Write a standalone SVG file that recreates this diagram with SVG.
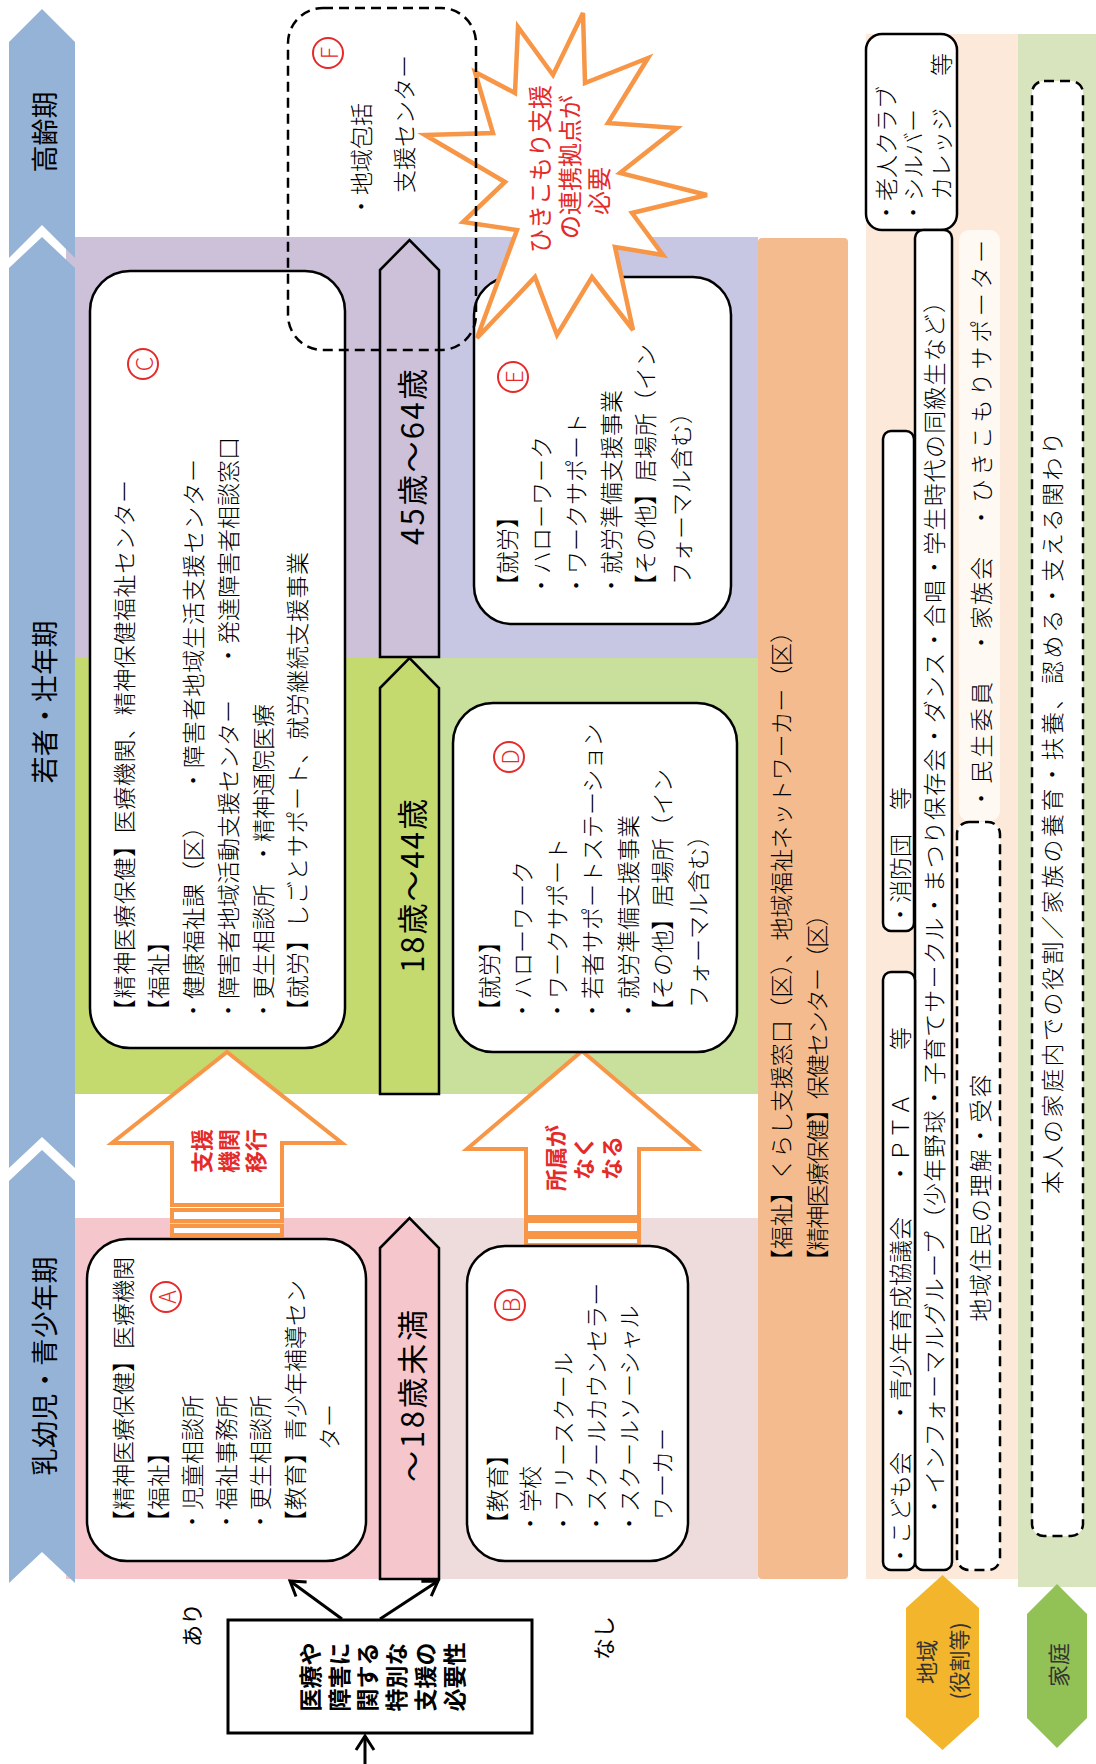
<svg xmlns="http://www.w3.org/2000/svg" width="1096" height="1764" viewBox="0 0 1096 1764">
<defs>
<style>
text{font-family:'Noto Sans CJK JP','Noto Sans CJK SC',sans-serif;dominant-baseline:central}
.bt{font-size:23px;fill:#000;font-weight:300}
.st{font-size:27px;fill:#000}
.ag{font-size:31px;fill:#000}
.rd{fill:#E52A2A}
.box{fill:#fff;stroke:#000;stroke-width:2.5}
.dash{stroke:#000;stroke-width:2.5;stroke-dasharray:10 6}
.stage{fill:#95B3D7}
.oa{fill:#fff;stroke:#F79646;stroke-width:4}
.cl{fill:none;stroke:#E52A2A;stroke-width:2}
.con{fill:none;stroke:#000;stroke-width:3}
.lt{font-size:23px;fill:#E52A2A;font-weight:300}
</style>
<marker id="ah" markerUnits="userSpaceOnUse" markerWidth="24" markerHeight="24" viewBox="0 0 24 24" refX="20" refY="12" orient="auto"><path d="M6,3 L20,12 L6,21" fill="none" stroke="#000" stroke-width="3"/></marker>
</defs>
<rect width="1096" height="1764" fill="#fff"/>
<g id="bands">
<rect x="66" y="237" width="343" height="421" fill="#CDC1DA"/>
<rect x="409" y="237" width="349" height="421" fill="#C7C7E3"/>
<rect x="66" y="658" width="343" height="436" fill="#C4D96E"/>
<rect x="409" y="658" width="349" height="436" fill="#C9E09D"/>
<rect x="66" y="1218" width="343" height="361" fill="#F5C6CB"/>
<rect x="409" y="1218" width="349" height="361" fill="#EEDCDC"/>
<rect x="758" y="238" width="90" height="1341" rx="4" fill="#F4BB8F"/>
<rect x="866" y="34" width="152" height="1545" fill="#FCE9DA"/>
<rect x="1018" y="34" width="78" height="1553" fill="#D7E4BD"/>
</g>
<g id="stage-elderly">
<polygon class="stage" points="9,42 42,9 75,42 75,258 42,225 9,258"/>
<text class="st" x="43" y="132" text-anchor="middle" transform="rotate(-90 43 132)">高齢期</text>
</g>
<g id="stage-adult">
<polygon class="stage" points="9,268 42,237 75,268 75,1168 42,1137 9,1168"/>
<text class="st" x="43" y="702" text-anchor="middle" textLength="163" transform="rotate(-90 43 702)">若者・壮年期</text>
</g>
<g id="stage-child">
<polygon class="stage" points="9,1181 42,1150 75,1181 75,1583 42,1552 9,1583"/>
<text class="st" x="43" y="1366" text-anchor="middle" textLength="219" transform="rotate(-90 43 1366)">乳幼児・青少年期</text>
</g>
<g id="age-45-64">
<polygon points="380,270 409.5,240 439,270 439,657 380,657" fill="#CDC1DA" stroke="#000" stroke-width="2.5"/>
<text class="ag" x="410" y="457" text-anchor="middle" textLength="176" transform="rotate(-90 410 457)">45歳〜64歳</text>
</g>
<g id="age-18-44">
<polygon points="380,688 409.5,658 439,688 439,1094 380,1094" fill="#C4D96E" stroke="#000" stroke-width="2.5"/>
<text class="ag" x="410" y="886" text-anchor="middle" textLength="174" transform="rotate(-90 410 886)">18歳〜44歳</text>
</g>
<g id="age-under18">
<polygon points="380,1248 409.5,1218 439,1248 439,1579 380,1579" fill="#F5C6CB" stroke="#000" stroke-width="2.5"/>
<text class="ag" x="410" y="1396" text-anchor="middle" textLength="172" transform="rotate(-90 410 1396)">〜18歳未満</text>
</g>
<g id="arrow-shien">
<polygon class="oa" points="227,1052 342,1143 282,1143 282,1205 172,1205 172,1143 112,1143"/>
<rect class="oa" x="172" y="1210" width="110" height="11"/>
<rect class="oa" x="172" y="1226" width="110" height="9"/>
<text class="rd" font-size="22" font-weight="700" x="200" y="1151" text-anchor="middle" transform="rotate(-90 200 1151)">支援</text>
<text class="rd" font-size="22" font-weight="700" x="227" y="1151" text-anchor="middle" transform="rotate(-90 227 1151)">機関</text>
<text class="rd" font-size="22" font-weight="700" x="254" y="1151" text-anchor="middle" transform="rotate(-90 254 1151)">移行</text>
</g>
<g id="arrow-shozoku">
<polygon class="oa" points="582,1051 697,1149 639,1149 639,1217 526,1217 526,1149 467,1149"/>
<rect class="oa" x="526" y="1221" width="113" height="12"/>
<rect class="oa" x="526" y="1237" width="113" height="8"/>
<text class="rd" font-size="22" font-weight="700" x="554" y="1158" text-anchor="middle" transform="rotate(-90 554 1158)">所属が</text>
<text class="rd" font-size="22" font-weight="700" x="582" y="1158" text-anchor="middle" transform="rotate(-90 582 1158)">なく</text>
<text class="rd" font-size="22" font-weight="700" x="610" y="1158" text-anchor="middle" transform="rotate(-90 610 1158)">なる</text>
</g>
<g id="node-C">
<rect class="box" x="90" y="271" width="255" height="777" rx="40"/>
<circle class="cl" cx="143" cy="364" r="15"/>
<text class="lt" x="143" y="364" text-anchor="middle" transform="rotate(-90 143 364)">C</text>
<text class="bt" x="123" y="1022" textLength="542" transform="rotate(-90 123 1022)">【精神医療保健】医療機関、精神保健福祉センター</text>
<text class="bt" x="157" y="1022" transform="rotate(-90 157 1022)">【福祉】</text>
<text class="bt" x="192" y="1022" transform="rotate(-90 192 1022)">・健康福祉課（区）</text>
<text class="bt" x="192" y="792" textLength="333" transform="rotate(-90 192 792)">・障害者地域生活支援センター</text>
<text class="bt" x="227" y="1022" transform="rotate(-90 227 1022)">・障害者地域活動支援センター</text>
<text class="bt" x="227" y="667" transform="rotate(-90 227 667)">・発達障害者相談窓口</text>
<text class="bt" x="262" y="1022" transform="rotate(-90 262 1022)">・更生相談所</text>
<text class="bt" x="262" y="865" transform="rotate(-90 262 865)">・精神通院医療</text>
<text class="bt" x="296" y="1022" textLength="470" transform="rotate(-90 296 1022)">【就労】しごとサポート、就労継続支援事業</text>
</g>
<g id="node-D">
<rect class="box" x="453" y="703" width="284" height="349" rx="40"/>
<circle class="cl" cx="509" cy="757" r="15"/>
<text class="lt" x="509" y="757" text-anchor="middle" transform="rotate(-90 509 757)">D</text>
<text class="bt" x="488" y="1022" transform="rotate(-90 488 1022)">【就労】</text>
<text class="bt" x="521" y="1022" transform="rotate(-90 521 1022)">・ハローワーク</text>
<text class="bt" x="556" y="1022" transform="rotate(-90 556 1022)">・ワークサポート</text>
<text class="bt" x="591" y="1022" transform="rotate(-90 591 1022)">・若者サポートステーション</text>
<text class="bt" x="627" y="1022" transform="rotate(-90 627 1022)">・就労準備支援事業</text>
<text class="bt" x="661" y="1022" transform="rotate(-90 661 1022)">【その他】居場所（イン</text>
<text class="bt" x="697" y="1008" transform="rotate(-90 697 1008)">フォーマル含む）</text>
</g>
<g id="node-E">
<rect class="box" x="474" y="277" width="257" height="347" rx="38"/>
<circle class="cl" cx="513" cy="377" r="15"/>
<text class="lt" x="513" y="377" text-anchor="middle" transform="rotate(-90 513 377)">E</text>
<text class="bt" x="506" y="597" transform="rotate(-90 506 597)">【就労】</text>
<text class="bt" x="540" y="597" transform="rotate(-90 540 597)">・ハローワーク</text>
<text class="bt" x="575" y="597" transform="rotate(-90 575 597)">・ワークサポート</text>
<text class="bt" x="610" y="597" transform="rotate(-90 610 597)">・就労準備支援事業</text>
<text class="bt" x="644" y="597" transform="rotate(-90 644 597)">【その他】居場所（イン</text>
<text class="bt" x="680" y="585" transform="rotate(-90 680 585)">フォーマル含む）</text>
</g>
<g id="node-A">
<rect class="box" x="87" y="1239" width="279" height="322" rx="40"/>
<circle class="cl" cx="166" cy="1297" r="15"/>
<text class="lt" x="166" y="1297" text-anchor="middle" transform="rotate(-90 166 1297)">A</text>
<text class="bt" x="122" y="1533" transform="rotate(-90 122 1533)">【精神医療保健】医療機関</text>
<text class="bt" x="157" y="1533" transform="rotate(-90 157 1533)">【福祉】</text>
<text class="bt" x="191" y="1533" transform="rotate(-90 191 1533)">・児童相談所</text>
<text class="bt" x="225" y="1533" transform="rotate(-90 225 1533)">・福祉事務所</text>
<text class="bt" x="259" y="1533" transform="rotate(-90 259 1533)">・更生相談所</text>
<text class="bt" x="294" y="1533" transform="rotate(-90 294 1533)">【教育】青少年補導セン</text>
<text class="bt" x="328" y="1450" transform="rotate(-90 328 1450)">ター</text>
</g>
<g id="node-B">
<rect class="box" x="467" y="1246" width="221" height="315" rx="38"/>
<circle class="cl" cx="510" cy="1305" r="15"/>
<text class="lt" x="510" y="1305" text-anchor="middle" transform="rotate(-90 510 1305)">B</text>
<text class="bt" x="496" y="1535" transform="rotate(-90 496 1535)">【教育】</text>
<text class="bt" x="529" y="1535" transform="rotate(-90 529 1535)">・学校</text>
<text class="bt" x="562" y="1535" transform="rotate(-90 562 1535)">・フリースクール</text>
<text class="bt" x="595" y="1535" transform="rotate(-90 595 1535)">・スクールカウンセラー</text>
<text class="bt" x="628" y="1535" transform="rotate(-90 628 1535)">・スクールソーシャル</text>
<text class="bt" x="661" y="1520" transform="rotate(-90 661 1520)">ワーカー</text>
</g>
<g id="callout-star">
<polygon points="583,13 585,83 648,58 608,123 677,128 620,173 707,195 632,213 663,255 615,247 633,330 592,277 557,335 535,277 477,338 517,230 463,222 505,182 425,135 493,133 475,72 515,93 518,27 553,75" fill="#fff" stroke="#F79646" stroke-width="4.5"/>
<text class="rd" font-size="24" x="538" y="169" text-anchor="middle" transform="rotate(-90 538 169)">ひきこもり支援</text>
<text class="rd" font-size="24" x="568" y="167" text-anchor="middle" transform="rotate(-90 568 167)">の連携拠点が</text>
<text class="rd" font-size="24" x="597" y="191" text-anchor="middle" transform="rotate(-90 597 191)">必要</text>
</g>
<g id="node-F">
<rect class="dash" x="288" y="8" width="188" height="342" rx="35" fill="none"/>
<circle class="cl" cx="328" cy="53" r="15"/>
<text class="lt" x="328" y="53" text-anchor="middle" transform="rotate(-90 328 53)">F</text>
<text class="bt" x="360" y="218" transform="rotate(-90 360 218)">・地域包括</text>
<text class="bt" x="403" y="193" transform="rotate(-90 403 193)">支援センター</text>
</g>
<g id="node-common">
<text class="bt" x="780" y="1272" textLength="652" transform="rotate(-90 780 1272)">【福祉】くらし支援窓口（区）、地域福祉ネットワーカー（区）</text>
<text class="bt" x="816" y="1272" textLength="369" transform="rotate(-90 816 1272)">【精神医療保健】保健センター（区）</text>
</g>
<g id="node-community">
<rect class="box" x="866" y="34" width="91" height="196" rx="16"/>
<text class="bt" x="885" y="224" transform="rotate(-90 885 224)">・老人クラブ</text>
<text class="bt" x="912" y="224" transform="rotate(-90 912 224)">・シルバー</text>
<text class="bt" x="940" y="200" transform="rotate(-90 940 200)">カレッジ</text>
<text class="bt" x="940" y="76" transform="rotate(-90 940 76)">等</text>
<rect class="box" x="915" y="230" width="37" height="1340" rx="8"/>
<text class="bt" x="933" y="1518" textLength="1228" transform="rotate(-90 933 1518)">・インフォーマルグループ（少年野球・子育てサークル・まつり保存会・ダンス・合唱・学生時代の同級生など）</text>
<rect class="box" x="883" y="972" width="32" height="598" rx="8"/>
<text class="bt" x="899" y="1567" transform="rotate(-90 899 1567)">・こども会</text>
<text class="bt" x="899" y="1424" transform="rotate(-90 899 1424)">・青少年育成協議会</text>
<text class="bt" x="899" y="1185" transform="rotate(-90 899 1185)">・ＰＴＡ</text>
<text class="bt" x="899" y="1050" transform="rotate(-90 899 1050)">等</text>
<rect class="box" x="883" y="431" width="31" height="500" rx="8"/>
<text class="bt" x="899" y="926" transform="rotate(-90 899 926)">・消防団</text>
<text class="bt" x="899" y="810" transform="rotate(-90 899 810)">等</text>
<rect x="959" y="230" width="41" height="591" rx="10" fill="#FFF9F4"/>
<text class="bt" x="980" y="810" textLength="128" transform="rotate(-90 980 810)">・民生委員</text>
<text class="bt" x="980" y="654" textLength="97" transform="rotate(-90 980 654)">・家族会</text>
<text class="bt" x="980" y="529" textLength="289" transform="rotate(-90 980 529)">・ひきこもりサポーター</text>
<rect class="dash" x="957" y="822" width="43" height="748" rx="12" fill="#fff"/>
<text class="bt" x="979" y="1198" text-anchor="middle" textLength="247" transform="rotate(-90 979 1198)">地域住民の理解・受容</text>
</g>
<g id="node-family">
<rect class="dash" x="1032" y="81" width="51" height="1455" rx="12" fill="#fff"/>
<text class="bt" x="1051" y="1194" textLength="762" transform="rotate(-90 1051 1194)">本人の家庭内での役割／家族の養育・扶養、認める・支える関わり</text>
</g>
<g id="label-community">
<polygon points="942.5,1575 979,1608 979,1717 942.5,1750 906,1717 906,1608" fill="#F2B52B"/>
<text font-size="22" fill="#333" x="925" y="1662" text-anchor="middle" transform="rotate(-90 925 1662)">地域</text>
<text font-size="21" fill="#333" x="958" y="1661" text-anchor="middle" transform="rotate(-90 958 1661)">(役割等)</text>
</g>
<g id="label-family">
<polygon points="1057,1584 1087,1614 1087,1718 1057,1748 1027,1718 1027,1614" fill="#92C155"/>
<text font-size="22" fill="#333" x="1057" y="1665" text-anchor="middle" transform="rotate(-90 1057 1665)">家庭</text>
</g>
<g id="node-need">
<rect x="228" y="1620" width="304" height="113" fill="#fff" stroke="#000" stroke-width="3"/>
<text font-size="23" font-weight="700" fill="#000" x="309" y="1677" text-anchor="middle" transform="rotate(-90 309 1677)">医療や</text>
<text font-size="23" font-weight="700" fill="#000" x="338" y="1677" text-anchor="middle" transform="rotate(-90 338 1677)">障害に</text>
<text font-size="23" font-weight="700" fill="#000" x="366" y="1677" text-anchor="middle" transform="rotate(-90 366 1677)">関する</text>
<text font-size="23" font-weight="700" fill="#000" x="395" y="1677" text-anchor="middle" transform="rotate(-90 395 1677)">特別な</text>
<text font-size="23" font-weight="700" fill="#000" x="424" y="1677" text-anchor="middle" transform="rotate(-90 424 1677)">支援の</text>
<text font-size="23" font-weight="700" fill="#000" x="453" y="1677" text-anchor="middle" transform="rotate(-90 453 1677)">必要性</text>
</g>
<g id="connectors">
<line class="con" x1="342" y1="1619" x2="290" y2="1581" marker-end="url(#ah)"/>
<line class="con" x1="380" y1="1619" x2="438" y2="1581" marker-end="url(#ah)"/>
<line class="con" x1="365" y1="1764" x2="365" y2="1736" marker-end="url(#ah)"/>
<text font-size="22" fill="#000" x="190" y="1625" text-anchor="middle" transform="rotate(-90 190 1625)">あり</text>
<text font-size="22" fill="#000" x="602" y="1638" text-anchor="middle" transform="rotate(-90 602 1638)">なし</text>
</g>
</svg>
